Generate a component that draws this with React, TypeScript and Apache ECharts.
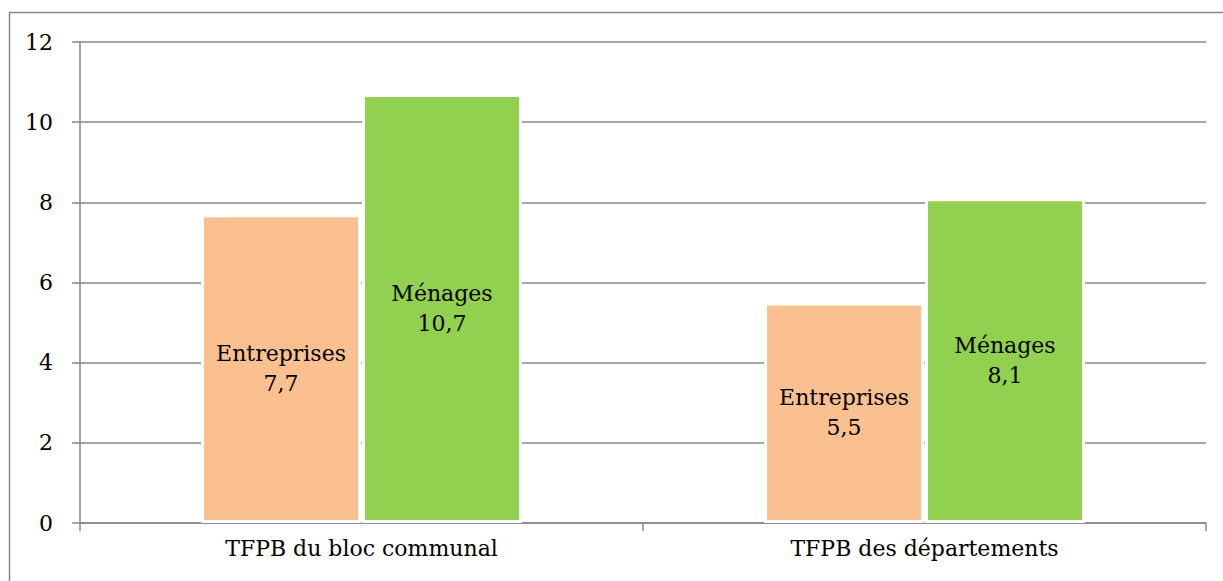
import React, { useEffect, useRef } from "react";
import * as echarts from "echarts";

const categories = ["TFPB du bloc communal", "TFPB des départements"];
const entreprises = [7.7, 5.5];
const menages = [10.7, 8.1];
const entreprisesLabels = ["7,7", "5,5"];
const menagesLabels = ["10,7", "8,1"];

const FONT = "DejaVu Serif";

export default function App() {
  const ref = useRef<HTMLDivElement>(null);
  useEffect(() => {
    const chart = echarts.init(ref.current!, null, { renderer: "svg" });
    const mkLabel = (name: string, labels: string[]) => ({
      show: true,
      position: "inside",
      fontFamily: FONT,
      fontSize: 22,
      lineHeight: 30,
      color: "#000",
      formatter: (p: any) => `${name}\n${labels[p.dataIndex]}`,
    });
    chart.setOption({
      animation: false,
      graphic: [
        {
          type: "rect",
          shape: { x: 9.5, y: 12.5, width: 1230, height: 600 },
          style: { fill: "none", stroke: "#888", lineWidth: 1.5 },
          silent: true,
        },
      ],
      grid: { left: 80, right: 17, top: 42, bottom: 58 },
      xAxis: {
        type: "category",
        data: categories,
        axisLine: { lineStyle: { color: "#888", width: 1.5 } },
        axisTick: { show: true, length: 8, lineStyle: { color: "#888", width: 1.5 } },
        axisLabel: { fontFamily: FONT, fontSize: 22, color: "#000", margin: 14 },
      },
      yAxis: {
        type: "value",
        min: 0,
        max: 12,
        interval: 2,
        axisLine: { show: true, lineStyle: { color: "#888", width: 1.5 } },
        axisTick: { show: true, length: 8, lineStyle: { color: "#888", width: 1.5 } },
        splitLine: { lineStyle: { color: "#888", width: 1.5 } },
        axisLabel: { fontFamily: FONT, fontSize: 22, color: "#000", margin: 27 },
      },
      series: [
        {
          name: "Entreprises",
          type: "bar",
          data: entreprises,
          barWidth: 160,
          barGap: "0.6%",
          itemStyle: { color: "#FAC090", borderColor: "#fff", borderWidth: 3 },
          label: mkLabel("Entreprises", entreprisesLabels),
        },
        {
          name: "Ménages",
          type: "bar",
          data: menages,
          barWidth: 160,
          itemStyle: { color: "#92D050", borderColor: "#fff", borderWidth: 3 },
          label: mkLabel("Ménages", menagesLabels),
        },
      ],
    });
    return () => chart.dispose();
  }, []);
  return (
    <div
      ref={ref}
      style={{ position: "fixed", left: 0, top: 0, width: 1223, height: 581, background: "#fff" }}
    />
  );
}
